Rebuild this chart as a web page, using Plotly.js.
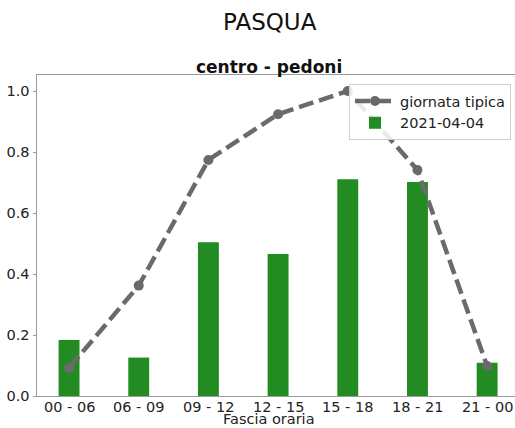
<!DOCTYPE html>
<html>
<head>
<meta charset="utf-8">
<script src="https://cdn.plot.ly/plotly-3.0.1.min.js"></script>
<style>html,body{margin:0;padding:0;background:#fff;}#chart{width:515px;height:428px;}</style>
</head>
<body>
<div id="chart"></div>
<script>
const categories = ["00 - 06", "06 - 09", "09 - 12", "12 - 15", "15 - 18", "18 - 21", "21 - 00"];
const typicalDay = [0.092, 0.362, 0.774, 0.924, 1.0, 0.741, 0.098];
const dayValues = [0.184, 0.126, 0.504, 0.466, 0.711, 0.702, 0.109];
const yTicks = [0.0, 0.2, 0.4, 0.6, 0.8, 1.0];
const lineName = "giornata tipica";
const barName = "2021-04-04";

const font = "DejaVu Sans, sans-serif";

const barTrace = {
  type: "bar",
  x: categories,
  y: dayValues,
  name: barName,
  width: 0.3,
  marker: {color: "#228B22", line: {width: 0}},
  legendrank: 2,
  hoverinfo: "skip"
};
const lineTrace = {
  type: "scatter",
  mode: "lines+markers",
  x: categories,
  y: typicalDay,
  name: lineName,
  line: {color: "#6a6a6a", width: 4.5, dash: "15px,6px"},
  marker: {color: "#6a6a6a", size: 10},
  legendrank: 1,
  hoverinfo: "skip"
};

// small outward tick marks under each category
const tickShapes = categories.map(c => ({
  type: "line", xref: "x", yref: "y", x0: c, x1: c,
  ysizemode: "pixel", yanchor: 0, y0: 0, y1: -3.5,
  line: {color: "#999", width: 1}, layer: "above"
}));

// category labels placed close under the axis
const tickLabels = categories.map(c => ({
  text: c, xref: "x", yref: "paper", x: c, y: -(407 - 396) / 321,
  xanchor: "center", yanchor: "middle", showarrow: false, borderpad: 0,
  font: {family: font, size: 14.5, color: "#222"}
}));

const layout = {
  width: 515,
  height: 428,
  margin: {l: 37, r: 0, t: 75, b: 32, pad: 0},
  paper_bgcolor: "#fff",
  plot_bgcolor: "#fff",
  font: {family: font, size: 14.5, color: "#222"},
  showlegend: true,
  legend: {
    x: 0.9916, xanchor: "right", y: 0.972, yanchor: "top",
    bgcolor: "rgba(255,255,255,0.85)", bordercolor: "#d0d0d0", borderwidth: 1,
    font: {family: font, size: 14.5, color: "#222"},
    traceorder: "normal", tracegroupgap: 0, itemwidth: 40
  },
  xaxis: {
    type: "category",
    range: [-0.46, 6.40],
    showline: true, linecolor: "#999", linewidth: 1, mirror: true,
    ticks: "", showticklabels: false,
    showgrid: false, zeroline: false,
    fixedrange: true
  },
  yaxis: {
    range: [0, 1.0525],
    tickvals: yTicks,
    tickformat: ".1f",
    showline: true, linecolor: "#999", linewidth: 1, mirror: false,
    ticks: "outside", ticklen: 3.5, tickcolor: "#999",
    showgrid: false, zeroline: false,
    tickfont: {family: font, size: 14.5, color: "#222"},
    fixedrange: true
  },
  shapes: tickShapes,
  annotations: tickLabels.concat([
    {text: "PASQUA", xref: "paper", yref: "paper", x: (270 - 37) / 478, y: 1 + (75 - 22) / 321,
     xanchor: "center", yanchor: "middle", showarrow: false,
     font: {family: font, size: 23, color: "#111"}},
    {text: "<b>centro - pedoni</b>", xref: "paper", yref: "paper", x: (269 - 37) / 478, y: 1 + (75 - 67) / 321,
     xanchor: "center", yanchor: "middle", showarrow: false,
     font: {family: font, size: 17, color: "#111"}},
    {text: "Fascia oraria", xref: "paper", yref: "paper", x: (269 - 37) / 478, y: -(428 - 396) / 321,
     xanchor: "center", yanchor: "bottom", showarrow: false, borderpad: 0,
     font: {family: font, size: 14.5, color: "#222"}}
  ])
};

Plotly.newPlot("chart", [barTrace, lineTrace], layout, {displayModeBar: false, staticPlot: true});
</script>
</body>
</html>
